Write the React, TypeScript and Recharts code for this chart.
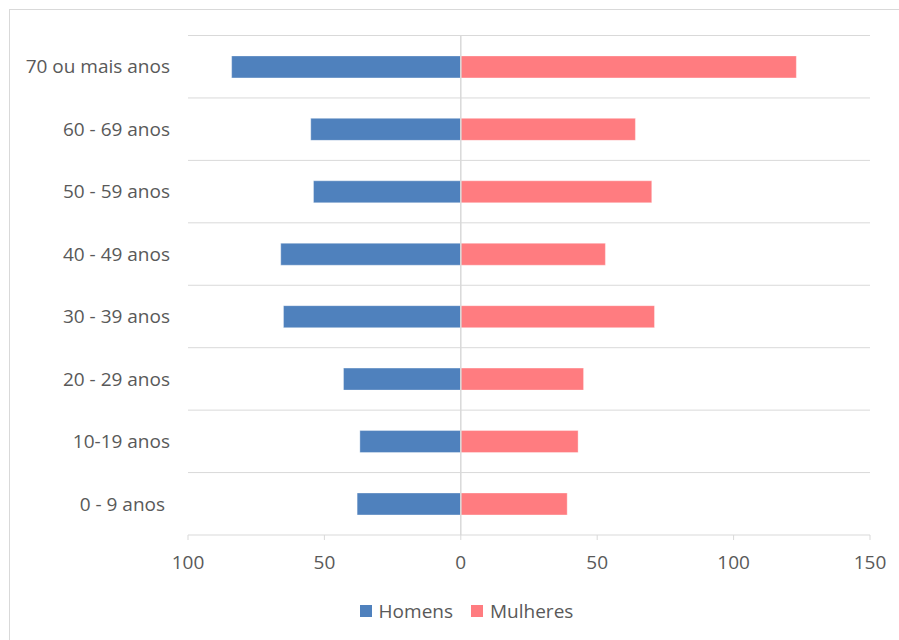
import { BarChart, Bar, XAxis, YAxis, CartesianGrid, ReferenceLine, Legend } from 'recharts';

// Faixas etárias, de cima para baixo
const faixas = [
  '70 ou mais anos',
  '60 - 69 anos',
  '50 - 59 anos',
  '40 - 49 anos',
  '30 - 39 anos',
  '20 - 29 anos',
  '10-19 anos',
  '0 - 9 anos\u00a0',
];
const homens = [84, 55, 54, 66, 65, 43, 37, 38];
const mulheres = [123, 64, 70, 53, 71, 45, 43, 39];
const xTicks = [-100, -50, 0, 50, 100, 150];

const series = [
  { key: 'homens', name: 'Homens', color: '#4F81BD' },
  { key: 'mulheres', name: 'Mulheres', color: '#FF7C80' },
];

// homens ficam no lado negativo para formar a pirâmide
const data = faixas.map((faixa, i) => ({
  faixa,
  homens: -homens[i],
  mulheres: mulheres[i],
}));

const FONT = "'Open Sans', sans-serif";
const TEXT = '#595959';
const GRID = '#d9d9d9';

function PyramidLegend() {
  return (
    <div style={{ display: 'flex', justifyContent: 'center', alignItems: 'center', height: 24 }}>
      {series.map((s, i) => (
        <div key={s.key} style={{ display: 'flex', alignItems: 'center', marginLeft: i ? 18 : 0 }}>
          <span style={{ width: 12, height: 12, background: s.color, display: 'inline-block', marginRight: 7 }} />
          <span style={{ color: TEXT, fontSize: 19, fontFamily: FONT, lineHeight: '24px' }}>{s.name}</span>
        </div>
      ))}
    </div>
  );
}

export default function App() {
  return (
    <div
      style={{
        position: 'fixed',
        left: 0,
        top: 0,
        width: 899,
        height: 640,
        overflow: 'hidden',
        background: '#fff',
        fontFamily: FONT,
      }}
    >
      <div
        style={{
          position: 'absolute',
          left: 9,
          top: 9,
          width: 950,
          height: 700,
          border: `1px solid ${GRID}`,
        }}
      />
      <div style={{ position: 'absolute', left: 0, top: 0 }}>
        <BarChart
          width={899}
          height={640}
          data={data}
          layout="vertical"
          stackOffset="sign"
          barCategoryGap="32.7%"
          margin={{ top: 35.5, right: 29, bottom: 0, left: 0 }}
        >
          <CartesianGrid
            vertical={false}
            stroke={GRID}
            horizontalCoordinatesGenerator={({ offset }: any) =>
              faixas.map((_, i) => offset.top + (i * offset.height) / faixas.length)
            }
          />
          <XAxis
            type="number"
            domain={[-100, 150]}
            ticks={xTicks}
            interval={0}
            tickFormatter={(v: number) => String(Math.abs(v))}
            axisLine={{ stroke: GRID }}
            tickLine={{ stroke: GRID }}
            tickSize={5}
            tickMargin={16}
            height={81}
            tick={{ fill: TEXT, fontSize: 19, fontFamily: FONT }}
          />
          <YAxis
            type="category"
            dataKey="faixa"
            width={188}
            interval={0}
            axisLine={false}
            tickLine={false}
            tickSize={0}
            tickMargin={18}
            tick={{ fill: TEXT, fontSize: 19, fontFamily: FONT }}
          />
          {series.map((s) => (
            <Bar
              key={s.key}
              dataKey={s.key}
              name={s.name}
              stackId="piramide"
              fill={s.color}
              stroke="#ffffff"
              strokeOpacity={0.35}
              isAnimationActive={false}
            />
          ))}
          <ReferenceLine x={0} stroke={GRID} strokeWidth={1.5} />
          <Legend
            verticalAlign="bottom"
            content={() => <PyramidLegend />}
            wrapperStyle={{ left: 17, width: 899, height: 24, top: 599 }}
          />
        </BarChart>
      </div>
    </div>
  );
}
